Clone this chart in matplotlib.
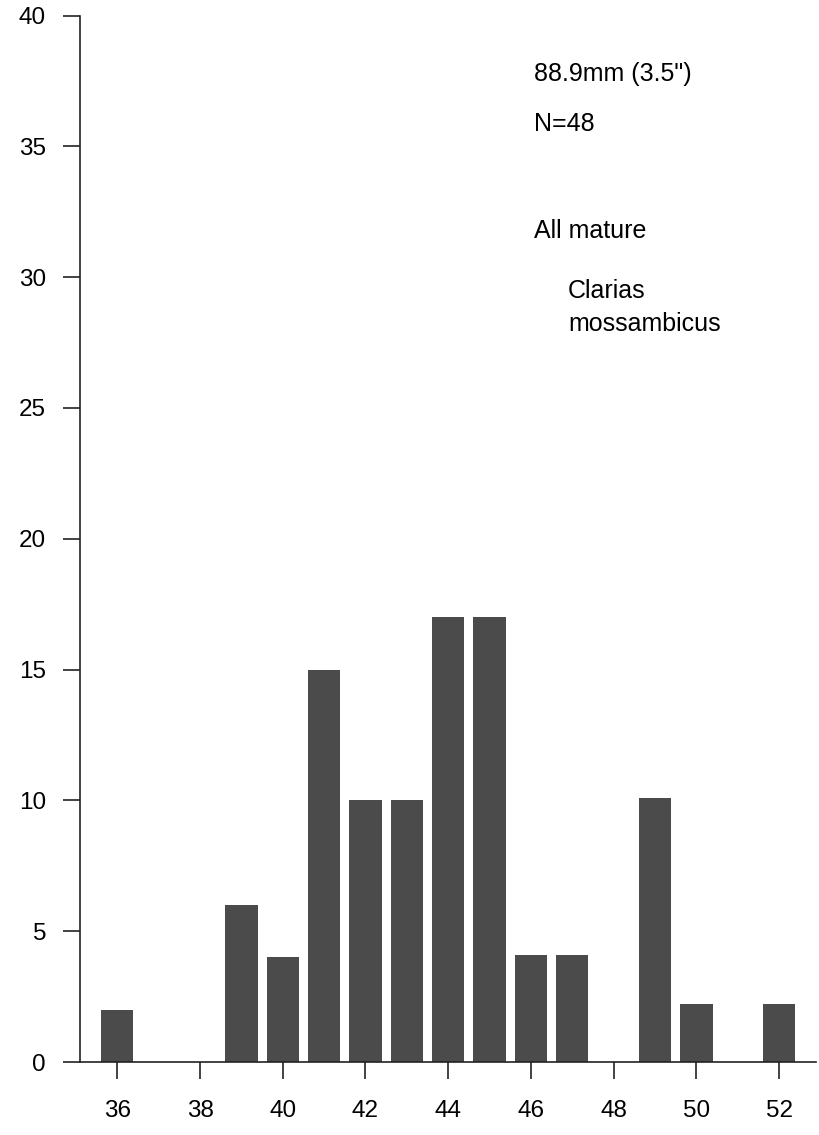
import matplotlib
matplotlib.use("Agg")
import matplotlib.pyplot as plt

# Length classes (cm) and percentage frequency in each class
length_cm = [36, 37, 38, 39, 40, 41, 42, 43, 44, 45, 46, 47, 48, 49, 50, 51, 52]
percent = [2.0, 0, 0, 6.0, 4.0, 15.0, 10.0, 10.0, 17.0, 17.0, 4.1, 4.1, 0, 10.1, 2.2, 0, 2.2]
x_ticks = [36, 38, 40, 42, 44, 46, 48, 50, 52]
y_ticks = [0, 5, 10, 15, 20, 25, 30, 35, 40]

plt.rcParams.update({
    "font.family": ["Liberation Sans", "DejaVu Sans"],
    "font.size": 17,
})

fig = plt.figure(figsize=(8.2, 11.35), dpi=100)
ax = fig.add_axes([0.0976, 0.0643, 0.898, 0.922])

ax.bar(length_cm, percent, width=0.78, color="#4b4b4b", edgecolor="none")

ax.set_xlim(35.1, 52.9)
ax.set_ylim(0, 40)
ax.set_xticks(x_ticks)
ax.set_yticks(y_ticks)
ax.tick_params(axis="both", length=12.5, width=1.2, color="#222222",
               labelsize=17.5, direction="out")
ax.tick_params(axis="y", pad=12)
ax.tick_params(axis="x", pad=15)

for side in ("top", "right"):
    ax.spines[side].set_visible(False)
for side in ("left", "bottom"):
    ax.spines[side].set_linewidth(1.2)
    ax.spines[side].set_color("#222222")

# Annotation block in the upper right
txt = dict(transform=ax.transData, fontsize=18, ha="left", va="center")
ax.text(46.07, 37.75, '88.9mm (3.5")', **txt)
ax.text(46.07, 35.84, "N=48", **txt)
ax.text(46.07, 31.76, "All mature", **txt)
ax.text(46.9, 29.47, "Clarias", **txt)
ax.text(46.9, 28.2, "mossambicus", **txt)

fig.savefig("out.png", dpi=100)
